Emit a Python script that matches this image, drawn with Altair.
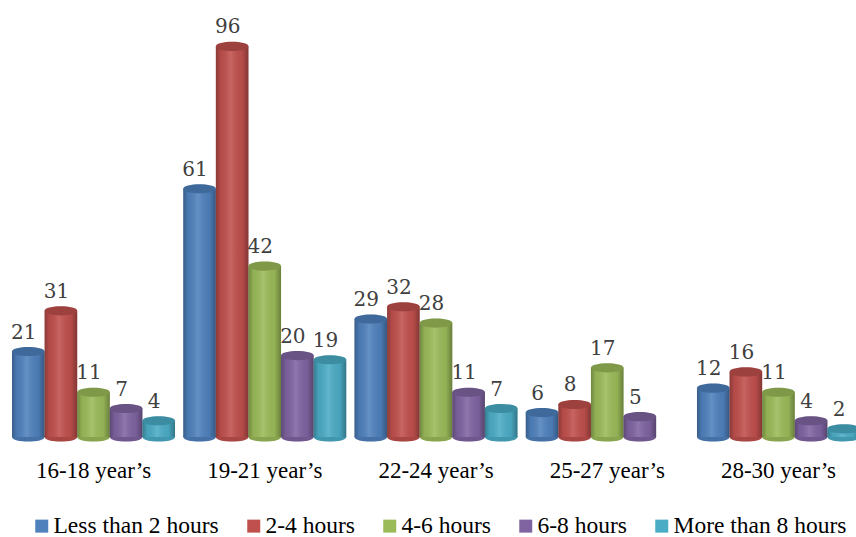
import altair as alt
import pandas as pd

groups = ["16-18 year’s", "19-21 year’s", "22-24 year’s", "25-27 year’s", "28-30 year’s"]
series = ["Less than 2 hours", "2-4 hours", "4-6 hours", "6-8 hours", "More than 8 hours"]
colors = ["#4f81bd", "#c0504d", "#9bbb59", "#8064a2", "#4bacc6"]

less_than_2 = [21, 61, 29, 6, 12]
hours_2_4 = [31, 96, 32, 8, 16]
hours_4_6 = [11, 42, 28, 17, 11]
hours_6_8 = [7, 20, 11, 5, 4]
more_than_8 = [4, 19, 7, None, 2]

all_values = [less_than_2, hours_2_4, hours_4_6, hours_6_8, more_than_8]
rows = []
for gi, g in enumerate(groups):
    for s, vals in zip(series, all_values):
        v = vals[gi]
        if v is None:
            continue
        rows.append({"group": g, "series": s, "value": v, "zero": 0})
df = pd.DataFrame(rows)

ELLIPSE = "M -1 0 C -1 -0.373 1 -0.373 1 0 C 1 0.373 -1 0.373 -1 0 Z"
SYM_SIZE = 1063

x = alt.X(
    "group:N",
    sort=groups,
    scale=alt.Scale(range=[12, 860], paddingInner=0.048, paddingOuter=0),
    axis=alt.Axis(
        title=None, labelAngle=0, domain=False, ticks=False, grid=False,
        labelFont="Liberation Serif", labelFontSize=23, labelColor="black",
        labelPadding=22, labelLimit=0,
    ),
)
xo = alt.XOffset("series:N", sort=series, scale=alt.Scale(paddingInner=0, paddingOuter=0))
yscale = alt.Scale(domain=[0, 107.4], nice=False)
y = alt.Y("value:Q", scale=yscale, axis=None)
y0 = alt.Y("zero:Q", scale=yscale, axis=None)

legend = alt.Legend(
    title=None, orient="none", legendX=30, legendY=514, direction="horizontal",
    columns=5, symbolType="square", symbolSize=169, symbolStrokeWidth=0,
    labelFont="Liberation Serif", labelFontSize=23.5, labelColor="black",
    labelOffset=0, columnPadding=23, padding=0, labelLimit=0,
)
color_enc = alt.Color("series:N", sort=series, scale=alt.Scale(domain=series, range=colors), legend=legend)

shade = alt.Gradient(
    gradient="linear", x1=0, x2=1, y1=0, y2=0,
    stops=[
        alt.GradientStop(color="rgba(0,0,0,0.28)", offset=0),
        alt.GradientStop(color="rgba(0,0,0,0.06)", offset=0.15),
        alt.GradientStop(color="rgba(255,255,255,0.12)", offset=0.45),
        alt.GradientStop(color="rgba(0,0,0,0.05)", offset=0.8),
        alt.GradientStop(color="rgba(0,0,0,0.32)", offset=1),
    ],
)

base = alt.Chart(df).encode(x=x, xOffset=xo)

bottom = base.mark_point(shape=ELLIPSE, size=SYM_SIZE, filled=True, opacity=1, strokeWidth=0).encode(
    y=y0, color=color_enc
)
bottom_shade = base.mark_point(shape=ELLIPSE, size=SYM_SIZE, filled=True, strokeWidth=0, color="black", opacity=0.12).encode(
    y=y0
)
bars = base.mark_bar(strokeWidth=0, opacity=1).encode(y=y, color=color_enc)
bar_shade = base.mark_bar(strokeWidth=0, fill=shade).encode(y=y)
top = base.mark_point(shape=ELLIPSE, size=SYM_SIZE, filled=True, opacity=1, strokeWidth=0).encode(
    y=y, color=color_enc
)
top_shade = base.mark_point(shape=ELLIPSE, size=SYM_SIZE, filled=True, strokeWidth=0, color="black", opacity=0.18).encode(
    y=y
)
labels = base.mark_text(
    dy=-13, dx=-4.5, baseline="alphabetic", font="DejaVu Serif", fontSize=20, color="#404040"
).encode(y=y, text="value:Q")

chart = (
    alt.layer(bottom, bottom_shade, bars, bar_shade, top, top_shade, labels)
    .properties(
        width=856, height=437,
        autosize=alt.AutoSizeParams(type="none"),
        padding={"left": 0, "top": 0, "right": 0, "bottom": 100},
        background="white",
    )
    .configure_view(stroke=None)
)

chart.save("out.html", embed_options={"renderer": "svg", "actions": False})
